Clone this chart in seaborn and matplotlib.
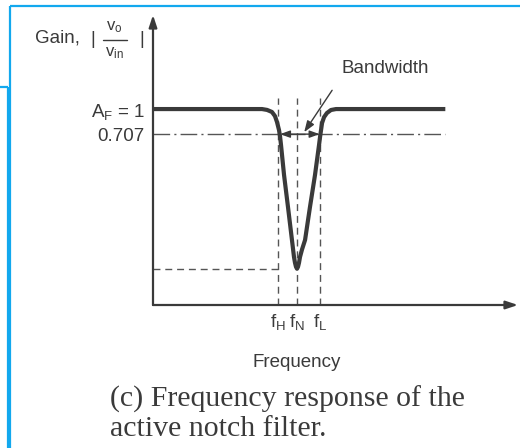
import numpy as np
import matplotlib
matplotlib.use("Agg")
import matplotlib.pyplot as plt
from matplotlib.lines import Line2D
import seaborn as sns

# Gain curve of the notch filter (frequency normalised to f_N = 1)
freq = [0.0, 0.757, 0.792, 0.826, 0.847, 0.861, 0.875, 0.882, 0.889, 0.910,
        0.9375, 0.965, 0.979, 0.986, 0.993, 1.0, 1.007, 1.014, 1.021, 1.035,
        1.056, 1.090, 1.125, 1.153, 1.160, 1.167, 1.174, 1.188, 1.208, 1.236,
        1.271, 2.03]
gain = [1.0, 1.0, 0.99, 0.966, 0.918, 0.849, 0.755, 0.699, 0.662, 0.538,
        0.405, 0.269, 0.199, 0.175, 0.158, 0.15, 0.158, 0.175, 0.199, 0.23,
        0.269, 0.405, 0.538, 0.662, 0.695, 0.755, 0.837, 0.906, 0.954, 0.989,
        1.0, 1.0]

passband_gain = 1.0
cutoff_gain = 0.707
notch_gain = 0.15
f_marks = [0.87, 1.0, 1.16]
f_labels = ["f$_H$", "f$_N$", "f$_L$"]
ytick_vals = [cutoff_gain, passband_gain]
ytick_labels = ["0.707", "A$_F$ = 1"]

ink = "#3a3a3a"
soft = "#555555"
blue = "#12a8ee"

sns.set_theme(style="white")
plt.rcParams["font.family"] = ["Liberation Sans", "DejaVu Sans"]
plt.rcParams["mathtext.fontset"] = "custom"
plt.rcParams["mathtext.rm"] = "Liberation Sans"
plt.rcParams["mathtext.it"] = "Liberation Sans"
plt.rcParams["mathtext.default"] = "regular"
plt.rcParams["text.color"] = ink

W, H = 520, 448
fig = plt.figure(figsize=(W / 100, H / 100), dpi=100)
fig.patch.set_facecolor("white")

x0, x1 = 153, 518          # y-axis position / x-axis arrow tip (px)
yb, yt = 305, 15           # x-axis position / y-axis arrow tip (px)
ax = fig.add_axes([x0 / W, (H - yb) / H, (x1 - x0) / W, (yb - yt) / H])
ax.set_facecolor("none")

# schematic gain axis: the region between 0.707 and 1 is stretched
kv = [0.0, 0.707, 1.0, 10.0]
kd = [0.0, 0.872, 1.0, 10.0]
fwd = lambda v: np.interp(v, kv, kd)
inv = lambda d: np.interp(d, kd, kv)
ax.set_yscale("function", functions=(fwd, inv))
ax.set_xlim(0, (x1 - x0) / 144)
ax.set_ylim(0, 1.48)

for s in ax.spines.values():
    s.set_visible(False)

# axes with arrow heads
head = "-|>,head_length=0.6,head_width=0.2"
ax.annotate("", xy=(ax.get_xlim()[1], 0), xytext=(0, 0),
            arrowprops=dict(arrowstyle=head, color=ink, lw=1.6,
                            shrinkA=0, shrinkB=0),
            annotation_clip=False)
ax.annotate("", xy=(0, 1.48), xytext=(0, 0),
            arrowprops=dict(arrowstyle=head, color=ink, lw=1.6,
                            shrinkA=0, shrinkB=0),
            annotation_clip=False)

# guide lines
ax.plot([0, 2.03], [cutoff_gain] * 2, color=soft, lw=1.0,
        linestyle=(0, (12, 3, 1.5, 3)))
ax.plot([0, f_marks[0]], [notch_gain] * 2, color=soft, lw=1.0,
        linestyle=(0, (5, 3.5)))
for f in f_marks:
    ax.plot([f, f], [0, 1.056], color=soft, lw=1.0, linestyle=(0, (5, 3.5)))

# response curve
sns.lineplot(x=freq, y=gain, ax=ax, color=ink, lw=3.0, sort=False,
             estimator=None, solid_joinstyle="round", solid_capstyle="butt")

# bandwidth marker
ax.annotate("", xy=(0.882, cutoff_gain), xytext=(1.157, cutoff_gain),
            arrowprops=dict(arrowstyle="<|-|>,head_length=0.5,head_width=0.18",
                            color=ink, lw=1.0, shrinkA=0, shrinkB=0))
ax.annotate("Bandwidth", xy=(1.05, 0.73), xytext=(1.611, 1.209),
            ha="center", va="center", fontsize=13.5, color=ink,
            arrowprops=dict(arrowstyle="-|>,head_length=0.5,head_width=0.18",
                            color=ink, lw=1.0, shrinkA=9, shrinkB=0,
                            relpos=(0.0, 0.0)))

ax.set_yticks(ytick_vals, labels=ytick_labels)
ax.set_xticks(f_marks, labels=f_labels)
ax.tick_params(axis="y", length=0, pad=6, labelsize=13.5, labelcolor=ink)
ax.tick_params(axis="x", length=0, pad=5, labelsize=13.5, labelcolor=ink)
ax.set_xlabel("Frequency", fontsize=13.5, color=ink)
ax.xaxis.set_label_coords((297 - x0) / (x1 - x0), -0.17)
ax.grid(False)

# gain label:  Gain, | v_o / v_in |
def fy(y):
    return 1 - y / H

fig.text(35 / W, fy(38), "Gain,", fontsize=13.5, color=ink,
         ha="left", va="center")
fig.text(93 / W, fy(40), "|", fontsize=13, color=ink, ha="center",
         va="center")
fig.text(142 / W, fy(40), "|", fontsize=13, color=ink, ha="center",
         va="center")
fig.text(114 / W, fy(27), "v$_o$", fontsize=12, color=ink, ha="center",
         va="center")
fig.text(114 / W, fy(53), "v$_{in}$", fontsize=12, color=ink, ha="center",
         va="center")
fig.add_artist(Line2D([103 / W, 127 / W], [fy(40), fy(40)],
                      transform=fig.transFigure, color=ink, lw=1.0))

# caption
cap = dict(fontsize=21.5, color=ink, ha="left", va="baseline",
           family=["Liberation Serif", "DejaVu Serif"])
fig.text(110 / W, fy(407), "(c) Frequency response of the", **cap)
fig.text(110 / W, fy(436), "active notch filter.", **cap)

# page frame lines
frame = [([10, 520], [6, 6]), ([10, 10], [6, 448]),
         ([7.5, 7.5], [87, 448]), ([0, 7.5], [87, 87])]
for xs, ys in frame:
    fig.add_artist(Line2D([x / W for x in xs], [fy(y) for y in ys],
                          transform=fig.transFigure, color=blue, lw=1.6,
                          solid_capstyle="butt"))

fig.savefig("out.png", dpi=100, facecolor="white")
